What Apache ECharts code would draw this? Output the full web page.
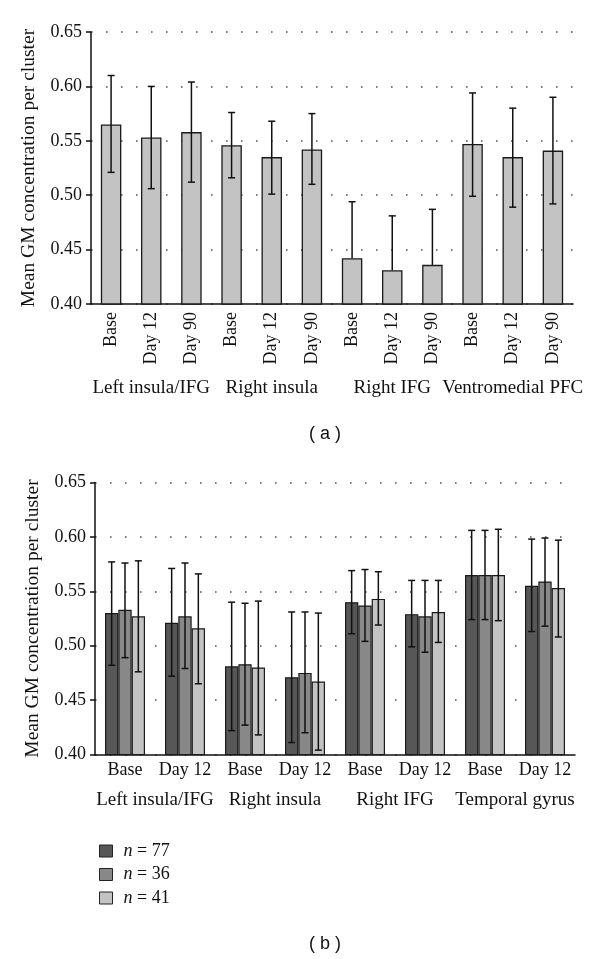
<!DOCTYPE html>
<html>
<head>
<meta charset="utf-8">
<script src="https://cdn.jsdelivr.net/npm/echarts@6/dist/echarts.min.js"></script>
<style>html,body{margin:0;padding:0;background:#fff}#c{width:600px;height:959px}</style>
</head>
<body>
<div id="c"></div>
<script>
// ---- Panel (a) data ----
const catsA = ['Base','Day 12','Day 90','Base','Day 12','Day 90','Base','Day 12','Day 90','Base','Day 12','Day 90'];
const groupsA = ['Left insula/IFG','Right insula','Right IFG','Ventromedial PFC'];
const meanA = [0.565,0.553,0.558,0.546,0.535,0.542,0.442,0.431,0.436,0.547,0.535,0.541];
const highA = [0.610,0.600,0.604,0.576,0.568,0.575,0.494,0.481,0.487,0.594,0.580,0.590];
const lowA  = [0.521,0.506,0.512,0.516,0.501,0.510,null,null,null,0.499,0.489,0.492];

// ---- Panel (b) data ----
const catsB = ['Base','Day 12','Base','Day 12','Base','Day 12','Base','Day 12'];
const groupsB = ['Left insula/IFG','Right insula','Right IFG','Temporal gyrus'];
const seriesNamesB = ['n = 77','n = 36','n = 41'];
const mean77 = [0.530,0.521,0.481,0.471,0.540,0.529,0.565,0.555];
const mean36 = [0.533,0.527,0.483,0.475,0.537,0.527,0.565,0.559];
const mean41 = [0.527,0.516,0.480,0.467,0.543,0.531,0.565,0.553];
const low77  = [0.482,0.472,0.422,0.411,0.511,0.499,0.524,0.513];
const high77 = [0.577,0.571,0.540,0.531,0.569,0.560,0.606,0.598];
const low36  = [0.489,0.479,0.427,0.420,0.504,0.494,0.524,0.518];
const high36 = [0.576,0.576,0.539,0.531,0.570,0.560,0.606,0.599];
const low41  = [0.476,0.465,0.418,0.404,0.519,0.503,0.523,0.508];
const high41 = [0.578,0.566,0.541,0.530,0.568,0.560,0.607,0.597];
const yTicks = [0.40,0.45,0.50,0.55,0.60,0.65];

const SERIF = '"Liberation Serif", "Times New Roman", serif';
const colorsB = ['#575757','#888888','#c3c3c3'];
const colorA = '#c3c3c3';
const TXT = '#111';

const chart = echarts.init(document.getElementById('c'), null, {renderer:'canvas'});

function errItem(api, offsetFrac, nSeries, capHalf){
  const x = api.value(0), lo = api.value(1), hi = api.value(2), mean = api.value(3);
  const band = api.size([1,0])[0];
  let dx = 0;
  if (nSeries > 1) { const bw = band*(1-1/3)/nSeries; dx = offsetFrac*bw; }
  const top = api.coord([x, hi]);
  const hasLow = !isNaN(lo) && lo !== null;
  const bot = api.coord([x, hasLow ? lo : mean]);
  const cx = top[0] + dx;
  const st = {stroke:'#111', lineWidth:1.5};
  const children = [
    {type:'line', shape:{x1:cx,y1:top[1],x2:cx,y2:bot[1]}, style:st},
    {type:'line', shape:{x1:cx-capHalf,y1:top[1],x2:cx+capHalf,y2:top[1]}, style:st}
  ];
  if (hasLow) children.push({type:'line', shape:{x1:cx-capHalf,y1:bot[1],x2:cx+capHalf,y2:bot[1]}, style:st});
  return {type:'group', children};
}

function yAxisCfg(gi){
  return {
    gridIndex:gi, type:'value', min:0.40, max:0.65, interval:0.05,
    name:'Mean GM concentration per cluster', nameLocation:'middle', nameGap:52,
    nameTextStyle:{fontFamily:SERIF, fontSize:19.5, color:TXT},
    axisLine:{show:true, lineStyle:{color:'#111', width:1.5}},
    axisTick:{show:true, length:5, inside:false, lineStyle:{color:'#111', width:1.5}},
    axisLabel:{fontFamily:SERIF, fontSize:18, color:TXT, margin:9,
      formatter:v => yTicks.find(t => Math.abs(t-v)<1e-6).toFixed(2)},
    splitLine:{show:true, lineStyle:{color:'#555', width:1.6, type:[1.6,13.4]}}
  };
}

const catLabel = {fontFamily:SERIF, fontSize:18, color:TXT, interval:0};
const groupLabel = {fontFamily:SERIF, fontSize:19, color:TXT, interval:0};

const option = {
  animation:false,
  backgroundColor:'#fff',
  grid:[
    {left:91, top:32, width:482, height:272},
    {left:95, top:482.5, width:480, height:272}
  ],
  xAxis:[
    {gridIndex:0, type:'category', data:catsA,
     axisLine:{lineStyle:{color:'#111', width:1.5}}, axisTick:{show:false},
     axisLabel:Object.assign({rotate:90, margin:8}, catLabel)},
    {gridIndex:0, type:'category', data:groupsA, position:'bottom', offset:69,
     axisLine:{show:false}, axisTick:{show:false}, splitLine:{show:false},
     axisLabel:Object.assign({margin:6}, groupLabel)},
    {gridIndex:1, type:'category', data:catsB,
     axisLine:{lineStyle:{color:'#111', width:1.5}}, axisTick:{show:false},
     axisLabel:Object.assign({margin:7}, catLabel)},
    {gridIndex:1, type:'category', data:groupsB, position:'bottom', offset:30,
     axisLine:{show:false}, axisTick:{show:false}, splitLine:{show:false},
     axisLabel:Object.assign({margin:6}, groupLabel)}
  ],
  yAxis:[yAxisCfg(0), yAxisCfg(1)],
  legend:{
    data:seriesNamesB, orient:'vertical', left:94, top:837,
    itemWidth:13, itemHeight:12, itemGap:5.5,
    icon:'rect',
    itemStyle:{borderColor:'#222', borderWidth:1},
    formatter: name => '{i|n}' + name.slice(1),
    textStyle:{fontFamily:SERIF, fontSize:18, color:TXT, padding:[0,0,0,6],
      rich:{i:{fontFamily:SERIF, fontSize:18, fontStyle:'italic', color:TXT}}}
  },
  series:[
    {type:'bar', name:'a', xAxisIndex:0, yAxisIndex:0, data:meanA, barCategoryGap:'49%',
     itemStyle:{color:colorA, borderColor:'#1a1a1a', borderWidth:1.3}},
    {type:'custom', name:'errA', xAxisIndex:0, yAxisIndex:0, z:5,
     data:meanA.map((m,i)=>[i, lowA[i]===null?NaN:lowA[i], highA[i], m]),
     renderItem:(p,api)=>errItem(api,0,1,3.5)},
    {type:'bar', name:seriesNamesB[0], xAxisIndex:2, yAxisIndex:1, data:mean77, barGap:'0%', barCategoryGap:'33.33%',
     itemStyle:{color:colorsB[0], borderColor:'#1a1a1a', borderWidth:1.2}},
    {type:'bar', name:seriesNamesB[1], xAxisIndex:2, yAxisIndex:1, data:mean36, barGap:'0%', barCategoryGap:'33.33%',
     itemStyle:{color:colorsB[1], borderColor:'#1a1a1a', borderWidth:1.2}},
    {type:'bar', name:seriesNamesB[2], xAxisIndex:2, yAxisIndex:1, data:mean41, barGap:'0%', barCategoryGap:'33.33%',
     itemStyle:{color:colorsB[2], borderColor:'#1a1a1a', borderWidth:1.2}},
    {type:'custom', name:'err77', xAxisIndex:2, yAxisIndex:1, z:5,
     data:mean77.map((m,i)=>[i, low77[i], high77[i], m]), renderItem:(p,api)=>errItem(api,-1,3,3.5)},
    {type:'custom', name:'err36', xAxisIndex:2, yAxisIndex:1, z:5,
     data:mean36.map((m,i)=>[i, low36[i], high36[i], m]), renderItem:(p,api)=>errItem(api,0,3,3.5)},
    {type:'custom', name:'err41', xAxisIndex:2, yAxisIndex:1, z:5,
     data:mean41.map((m,i)=>[i, low41[i], high41[i], m]), renderItem:(p,api)=>errItem(api,1,3,3.5)}
  ],
  graphic:[
    {type:'text', left:309, top:425, style:{text:'( a )', font:'18px "Liberation Sans", Arial, sans-serif', fill:TXT}},
    {type:'text', left:309, top:935, style:{text:'( b )', font:'18px "Liberation Sans", Arial, sans-serif', fill:TXT}}
  ]
};
chart.setOption(option);
</script>
</body>
</html>
